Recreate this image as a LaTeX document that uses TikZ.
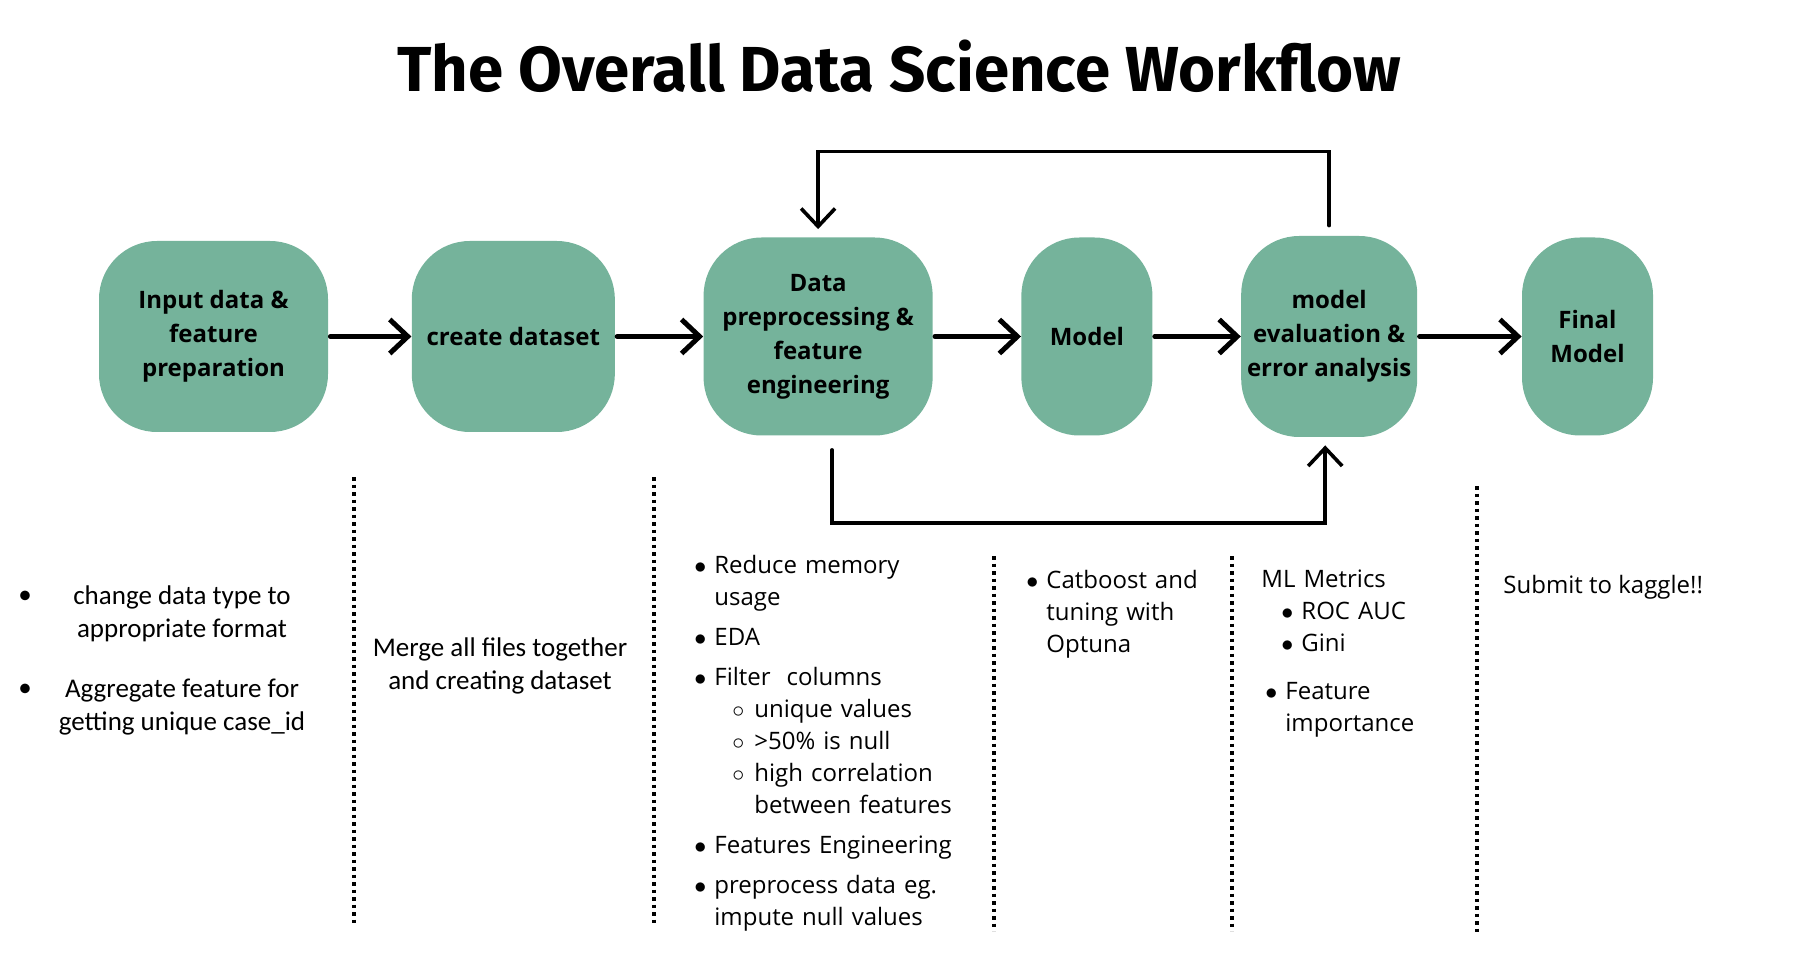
\documentclass[tikz,border=0pt]{standalone}
\usepackage{fontspec}
\usepackage{enumitem}
\usetikzlibrary{positioning, arrows.meta}
\setmainfont{Open Sans}
\newfontfamily\headfont{Fira Sans}
\newfontfamily\calfont{Carlito}
\definecolor{sage}{HTML}{75B39B}
\setlist{nosep}
\setlist[itemize]{label={$\bullet$}}
\tikzset{
    stage/.style = {fill=sage, rounded corners=29pt, align=center, inner sep=1pt,
                    font=\bfseries\fontsize{12}{17}\selectfont},
    flow/.style = {draw, line width=2.5pt, line cap=round,
                   -{Straight Barb[length=9pt, width=17pt]}, shorten <=1pt},
    loopback/.style = {draw, line width=1.8pt, line cap=round,
                   -{Straight Barb[length=9pt, width=17pt]}},
    divider/.style = {draw, line width=1.75pt, dash pattern=on 1.75pt off 2pt},
    notes/.style = {anchor=north west, inner sep=0pt, align=left,
                    font=\fontsize{12}{16}\selectfont},
    calnotes/.style = {inner sep=0pt, align=center, font=\calfont\fontsize{13.5}{16.5}\selectfont},
}

\begin{document}
\begin{tikzpicture}[node distance=44pt]
    \useasboundingbox (0,0) rectangle (901pt,-486pt);

    \node[anchor=base, font=\headfont\bfseries\fontsize{31.8}{36}\selectfont] (title)
        at (449.5pt,-46pt) {The Overall Data Science Workflow};

    \node[stage, minimum width=114.5pt, minimum height=95.5pt] (in) at (106.75pt,-168.25pt)
        {Input data \&\\feature\\preparation};
    \node[stage, minimum width=101.5pt, minimum height=95.5pt, right=41.5pt of in] (ds) {create dataset};
    \node[stage, minimum width=114.5pt, minimum height=99pt, right=of ds] (prep)
        {Data\\preprocessing \&\\feature\\engineering};
    \node[stage, minimum width=65.5pt, minimum height=99pt, right=of prep] (model) {Model};
    \node[stage, minimum width=88pt, minimum height=100.5pt, right=of model] (eval)
        {model\\evaluation \&\\error analysis};
    \node[stage, minimum width=65.5pt, minimum height=99pt, right=52pt of eval] (final) {Final\\Model};

    \foreach \a/\b in {in/ds, ds/prep, prep/model, model/eval, eval/final}
        \draw[flow] (\a) -- (\b);

    \draw[loopback] ([yshift=5pt]eval.north) -- ([yshift=42pt]eval.north) -| ([yshift=4pt]prep.north);
    \draw[loopback] ([xshift=7pt,yshift=-7pt]prep.south) -- ++(0,-36.5pt)
        -| ([xshift=-2pt,yshift=-4pt]eval.south);

    \foreach \x/\top/\bot in {177/238.5/461.5, 327/238.5/461.5, 497/278/465.5, 616/278/465.5, 738.5/243/466.5}
        \draw[divider] (\x pt,-\top pt) -- (\x pt,-\bot pt);

    \node[calnotes] (dot1) at (12.5pt,-298.8pt) {\textbullet};
    \node[calnotes] (type) at (91pt,-307pt) {change data type to\\appropriate format};
    \node[calnotes] (dot2) at (12.5pt,-345.4pt) {\textbullet};
    \node[calnotes] (agg) at (91pt,-353.5pt) {Aggregate feature for\\getting unique case\_id};
    \node[calnotes] (merge) at (250pt,-333pt) {Merge all files together\\and creating dataset};

    \node[notes, text width=150pt] (prepnotes) at (347pt,-270.7pt) {%
        \begin{itemize}[leftmargin=10pt, labelsep=4pt, itemsep=4pt]
        \item Reduce memory\\usage
        \item EDA
        \item Filter\ \ columns
            \begin{itemize}[leftmargin=20pt, labelsep=5pt, label={$\circ$}]
            \item unique values
            \item >50\% is null
            \item high correlation\\between features
            \end{itemize}
        \item Features Engineering
        \item preprocess data eg.\\impute null values
        \end{itemize}};

    \node[notes, text width=100pt] (modelnotes) at (513pt,-278pt) {%
        \begin{itemize}[leftmargin=10pt, labelsep=4pt]
        \item Catboost and\\tuning with\\Optuna
        \end{itemize}};

    \node[notes, text width=100pt] (evalnotes) at (630.5pt,-284.5pt) {%
        ML Metrics
        \begin{itemize}[leftmargin=20pt, labelsep=4pt]
        \item ROC AUC
        \item Gini
        \end{itemize}
        \begin{itemize}[leftmargin=12pt, labelsep=4pt, topsep=8pt]
        \item Feature\\importance
        \end{itemize}};

    \node[anchor=base west, inner sep=0pt, font=\fontsize{12}{16}\selectfont] (submit)
        at (751.5pt,-296.8pt) {Submit to kaggle!!};
\end{tikzpicture}
\end{document}
